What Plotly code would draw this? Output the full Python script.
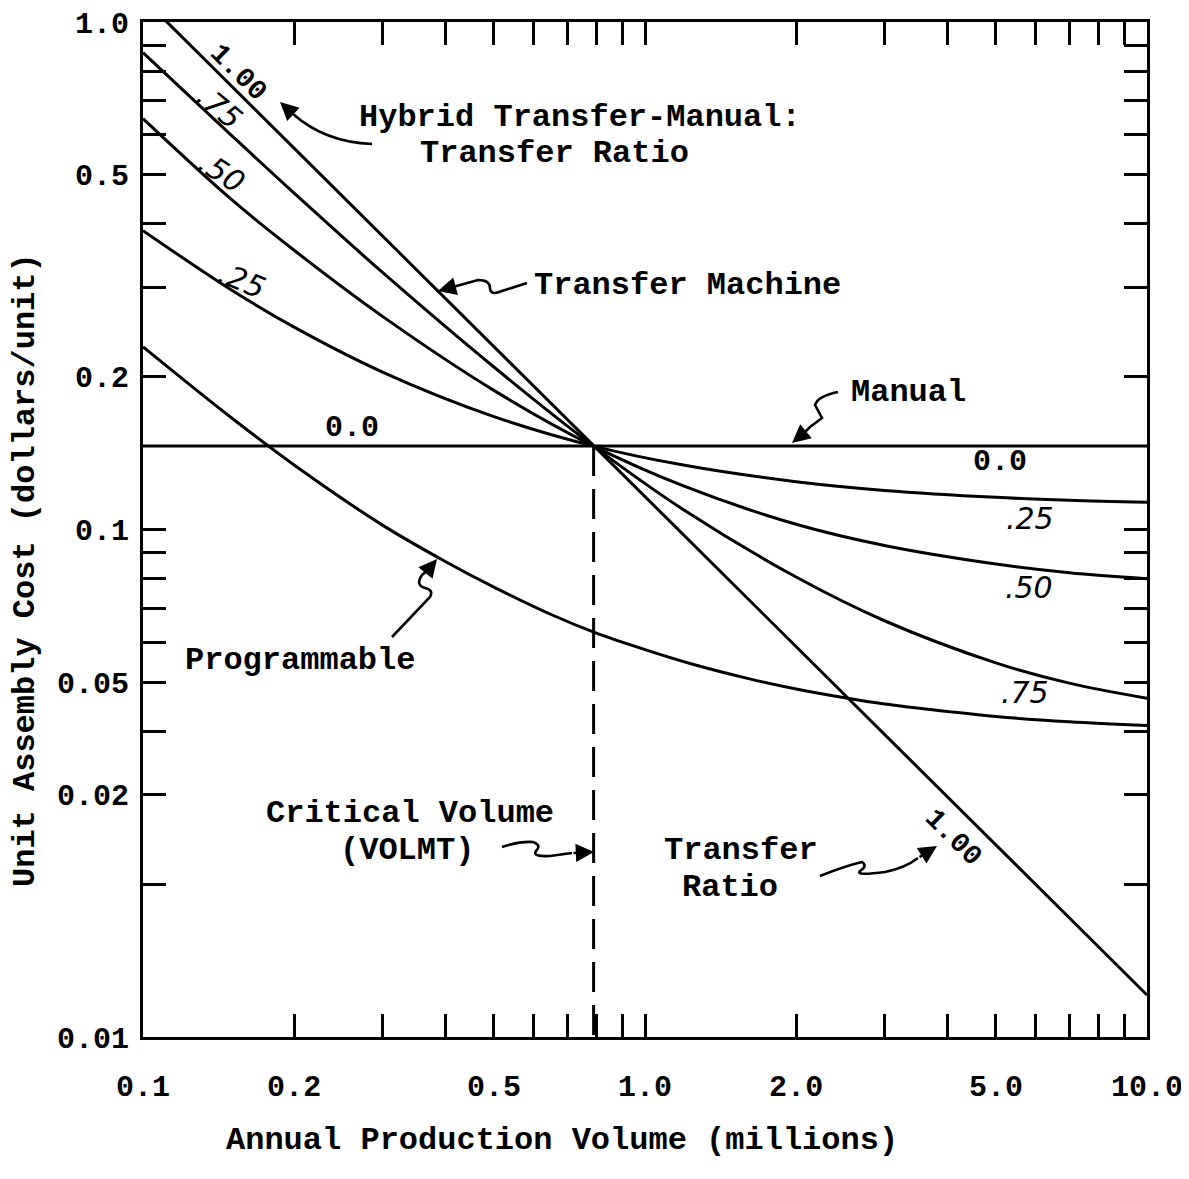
import plotly.graph_objects as go

# ---------------- data ----------------
volume = [0.1, 0.15, 0.2, 0.3, 0.5, 0.79, 1.2, 2.0, 3.0, 5.0, 7.0, 10.0]
ratio_075 = [0.870, 0.598, 0.460, 0.321, 0.209, 0.146, 0.109, 0.0806, 0.0661, 0.0546, 0.0498, 0.0465]
ratio_050 = [0.645, 0.447, 0.355, 0.263, 0.188, 0.146, 0.1216, 0.1024, 0.0930, 0.0855, 0.0822, 0.0800]
ratio_025 = [0.388, 0.2965, 0.2505, 0.2043, 0.1669, 0.146, 0.1338, 0.1242, 0.1194, 0.1157, 0.1142, 0.1132]

prog_volume = [0.1, 0.15, 0.2, 0.3, 0.4, 0.5, 0.65, 0.8, 1.0, 1.25, 1.6, 2.0, 2.5, 3.0, 4.0, 5.0, 7.0, 10.0]
programmable = [0.229, 0.166, 0.134, 0.102, 0.0865, 0.077, 0.068, 0.0625, 0.058, 0.0542, 0.0509,
                0.0485, 0.0466, 0.0453, 0.0438, 0.0428, 0.0418, 0.0411]

transfer_volume = [0.1, 10.0]
transfer_cost = [1.114, 0.0121]

manual_volume = [0.1, 10.0]
manual_cost = [0.146, 0.146]

critical_volume = [0.79, 0.79]
critical_cost = [0.146, 0.01]

x_tickvals = [0.1, 0.2, 0.3, 0.4, 0.5, 0.6, 0.7, 0.8, 0.9, 1, 2, 3, 4, 5, 6, 7, 8, 9, 10]
x_ticktext = ["0.1", "0.2", "", "", "0.5", "", "", "", "", "1.0", "2.0", "", "", "5.0", "", "", "", "", "10.0"]
y_tickvals = [0.01, 0.02, 0.03, 0.04, 0.05, 0.06, 0.07, 0.08, 0.09,
              0.1, 0.2, 0.3, 0.4, 0.5, 0.6, 0.7, 0.8, 0.9, 1.0]
y_ticktext = ["0.01", "", "0.02", "", "0.05", "", "", "", "",
              "0.1", "0.2", "", "", "0.5", "", "", "", "", "1.0"]

# ---------------- layout helpers ----------------
OFF = 8                      # page body margin
W, H = 1189 - OFF, 1179 - OFF
L, R, T, B = 135, 42, 14, 142
PW, PH = W - L - R, H - T - B
MONO = "Liberation Mono"
HAND = "DejaVu Sans"


def P(px, py):
    # screen pixel -> paper coordinates
    return (px - OFF - L) / PW, (H - B - (py - OFF)) / PH


annotations = []
shapes = []


def text(px, py, s, size=32, angle=0, family=MONO, weight="bold", style="normal"):
    x, y = P(px, py)
    annotations.append(dict(x=x, y=y, xref="paper", yref="paper", text=s, showarrow=False,
                            textangle=angle, xanchor="center", yanchor="middle", borderpad=0,
                            font=dict(family=family, size=size, color="black",
                                      weight=weight, style=style)))


def arrow(hx, hy, tx, ty):
    x, y = P(hx, hy)
    annotations.append(dict(x=x, y=y, xref="paper", yref="paper", ax=tx - hx, ay=ty - hy,
                            axref="pixel", ayref="pixel", text="", showarrow=True,
                            arrowhead=2, arrowsize=1.4, arrowwidth=2.6, arrowcolor="black",
                            standoff=0, startstandoff=0))


def squiggle(segs):
    s = ""
    for cmd, pts in segs:
        s += cmd + " " + " ".join("%.5f,%.5f" % P(*p) for p in pts) + " "
    shapes.append(dict(type="path", xref="paper", yref="paper", path=s.strip(),
                       line=dict(color="black", width=2.6)))


# ---------------- figure ----------------
fig = go.Figure()
line = dict(color="black", width=3)
spline = dict(color="black", width=3, shape="spline", smoothing=1)

fig.add_trace(go.Scatter(x=transfer_volume, y=transfer_cost, mode="lines", line=line))
for ys in (ratio_075, ratio_050, ratio_025):
    fig.add_trace(go.Scatter(x=volume, y=ys, mode="lines", line=spline))
fig.add_trace(go.Scatter(x=manual_volume, y=manual_cost, mode="lines", line=line))
fig.add_trace(go.Scatter(x=prog_volume, y=programmable, mode="lines", line=spline))
fig.add_trace(go.Scatter(x=critical_volume, y=critical_cost, mode="lines",
                         line=dict(color="black", width=3, dash="30px,13px")))

# curve labels
text(238, 72, "1.00", size=28, angle=45)
text(220, 107, ".75", size=30, angle=40, family=HAND, weight="normal", style="italic")
text(222, 172, ".50", size=30, angle=33, family=HAND, weight="normal", style="italic")
text(242, 280, ".25", size=30, angle=22, family=HAND, weight="normal", style="italic")
text(352, 428, "0.0", size=30)
text(1000, 462, "0.0", size=30)
text(1030, 518, ".25", size=30, family=HAND, weight="normal", style="italic")
text(1029, 588, ".50", size=30, family=HAND, weight="normal", style="italic")
text(1025, 693, ".75", size=30, family=HAND, weight="normal", style="italic")
text(953, 837, "1.00", size=28, angle=45)

# descriptive labels
text(580, 117, "Hybrid Transfer-Manual:")
text(554, 153, "Transfer Ratio")
text(687, 286, "Transfer Machine")
text(908, 392, "Manual")
text(300, 660, "Programmable")
text(410, 813, "Critical Volume")
text(407, 850, "(VOLMT)")
text(741, 850, "Transfer")
text(730, 887, "Ratio")

# axis titles
text(562, 1140, "Annual Production Volume (millions)")
text(25, 570, "Unit Assembly Cost (dollars/unit)", angle=-90)

# squiggly arrows
squiggle([("M", [(372, 144)]), ("C", [(345, 143), (318, 136), (293, 114)])])
arrow(280, 102, 293, 114)

squiggle([("M", [(527, 283)]), ("L", [(502, 291)]), ("Q", [(490, 296), (490, 288)]),
          ("Q", [(490, 280), (478, 280)]), ("L", [(453, 287)])])
arrow(438, 291, 453, 287)

squiggle([("M", [(838, 392)]), ("Q", [(818, 396), (815, 405)]), ("L", [(822, 418)]),
          ("L", [(810, 427)]), ("L", [(804, 433)])])
arrow(792, 443, 804, 433)

squiggle([("M", [(392, 637)]), ("L", [(430, 597)]), ("Q", [(434, 590), (425, 588)]),
          ("Q", [(415, 585), (422, 575)]), ("L", [(428, 570)])])
arrow(437, 559, 428, 570)

squiggle([("M", [(502, 847)]), ("Q", [(520, 841), (533, 842)]), ("Q", [(542, 845), (536, 851)]),
          ("Q", [(532, 857), (550, 856)]), ("L", [(572, 853)])])
arrow(594, 852, 572, 853)

squiggle([("M", [(820, 876)]), ("Q", [(845, 866), (862, 862)]), ("Q", [(868, 866), (860, 871)]),
          ("Q", [(855, 876), (885, 872)]), ("Q", [(905, 868), (918, 858)])])
arrow(937, 846, 918, 858)

tickfont = dict(family=MONO, size=30, color="black", weight="bold")
axis_common = dict(type="log", showline=True, linecolor="black", linewidth=3, mirror="ticks",
                   ticks="inside", ticklen=23, tickwidth=3, tickcolor="black",
                   showgrid=False, zeroline=False, tickfont=tickfont, automargin=False,
                   ticklabeloverflow="allow")

fig.update_layout(
    width=W, height=H,
    margin=dict(l=L, r=R, t=T, b=B),
    paper_bgcolor="white", plot_bgcolor="white",
    showlegend=False,
    xaxis=dict(range=[-1, 1], tickvals=x_tickvals, ticktext=x_ticktext,
               ticklabelstandoff=20, **axis_common),
    yaxis=dict(range=[-2, 0], tickvals=y_tickvals, ticktext=y_ticktext,
               ticklabelstandoff=5, **axis_common),
    annotations=annotations,
    shapes=shapes,
)

fig.write_html("out.html")
